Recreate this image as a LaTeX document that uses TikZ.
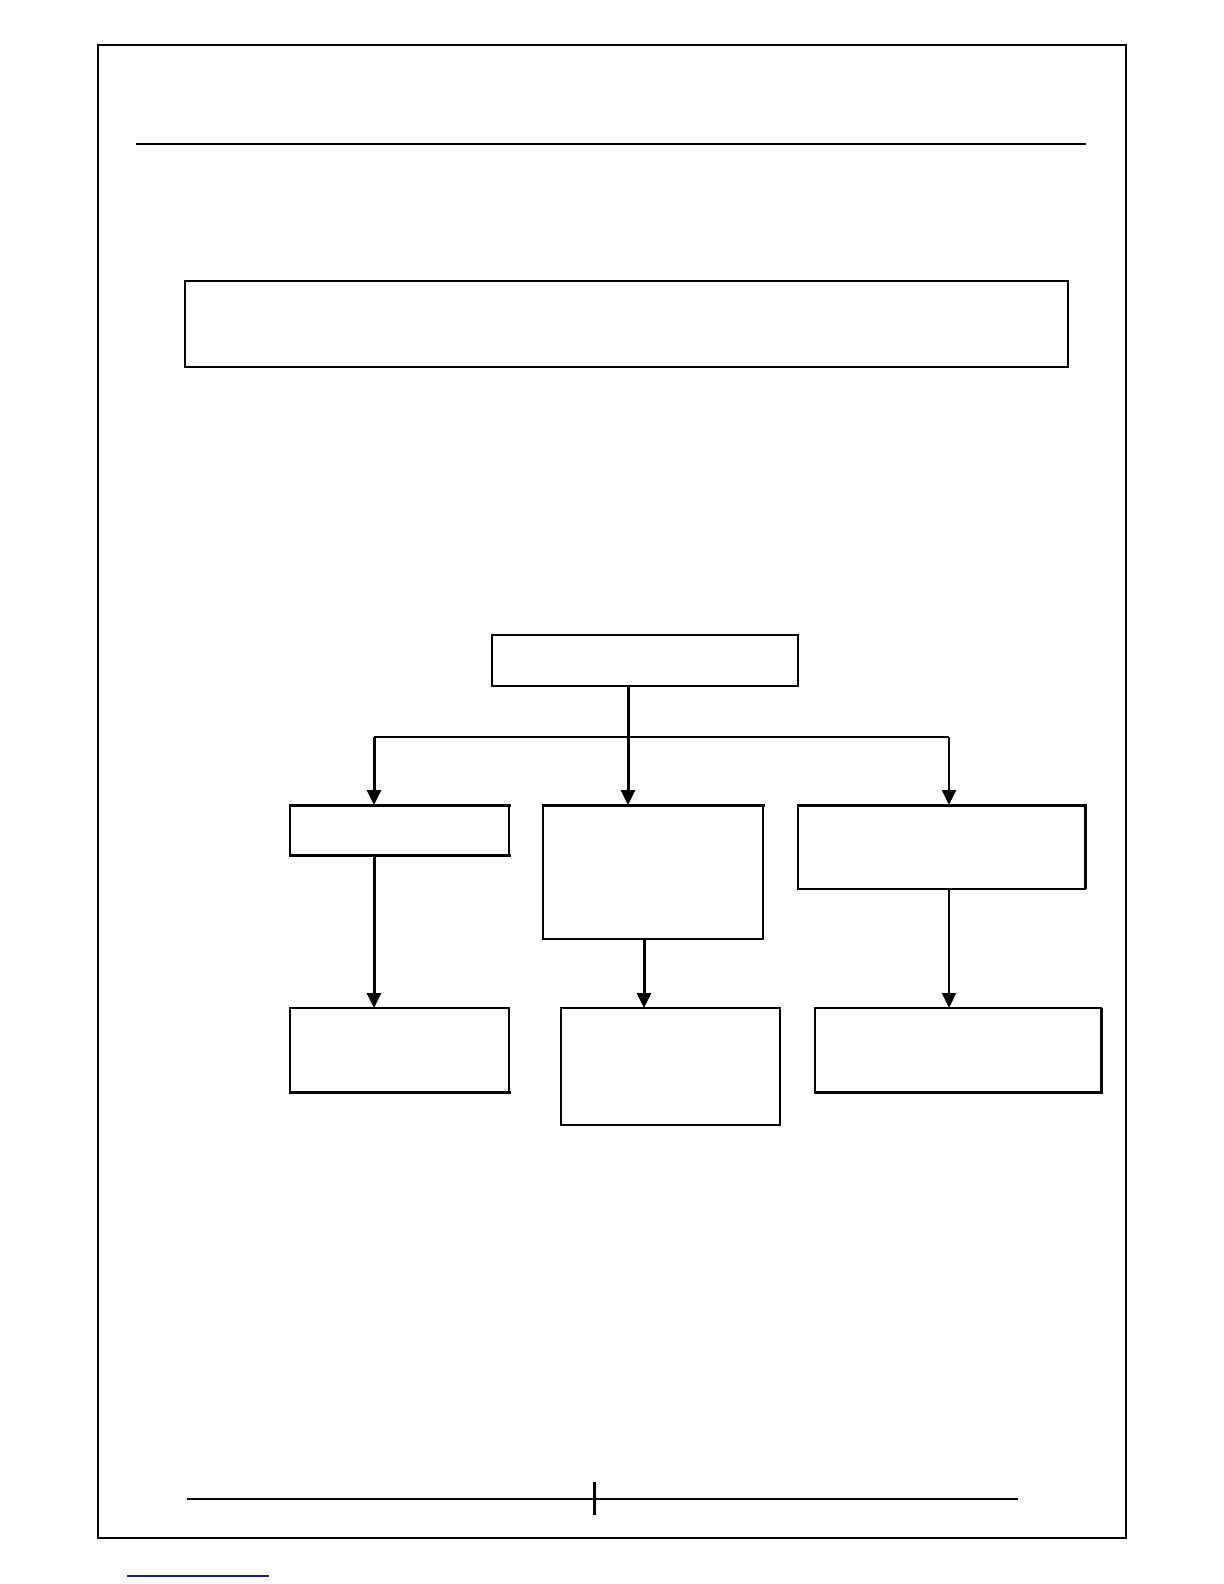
\documentclass[tikz,border=0pt]{standalone}
\usetikzlibrary{arrows.meta,positioning}
\definecolor{linkblue}{RGB}{30,30,140}
\begin{document}
\begin{tikzpicture}[x=0.5pt,y=-0.5pt,
  box/.style={draw=black,line width=1pt,rectangle,inner sep=0pt,outer sep=0pt,anchor=north west},
  thickedge/.style={line width=1.5pt,line cap=rect},
  conn/.style={draw=black,line width=1pt},
  connthick/.style={draw=black,line width=1.5pt},
  arr/.style={-{Triangle[length=7.5pt,width=7pt]}}
]
\useasboundingbox (0,0) rectangle (1224,1584);
% page frame and rules
\draw[line width=1pt] (98,45) rectangle (1126,1538);
\draw[line width=1pt] (136,144) -- (1086,144);
\draw[line width=1pt] (187,1499) -- (1018,1499);
\draw[line width=1.5pt] (594,1482) -- (594,1515);
\draw[linkblue,line width=1pt] (127,1576) -- (269,1576);
% top wide box
\node[box,minimum width=441.5pt,minimum height=43pt] (head) at (185,281) {};
% tree
\node[box,minimum width=153pt,minimum height=25.5pt] (top) at (492,635) {};
\node[box,minimum width=109.5pt,minimum height=25pt] (A) at (290,805) {};
\node[box,minimum width=110pt,minimum height=67pt] (B) at (543,805) {};
\node[box,minimum width=143.5pt,minimum height=42pt] (C) at (798,805) {};
\node[box,minimum width=109.5pt,minimum height=42pt] (D) at (290,1008) {};
\node[box,minimum width=109.5pt,minimum height=58.5pt] (E) at (561,1008) {};
\node[box,minimum width=143pt,minimum height=42pt] (F) at (815,1008) {};
% thicker edges
\draw[thickedge] (A.north west) -- (A.north east);
\draw[thickedge] (A.south west) -- (A.south east);
\draw[thickedge] (B.north west) -- (B.north east);
\draw[thickedge] (C.north west) -- (C.north east);
\draw[line width=1.5pt] (C.north east) -- (C.south east);
\draw[thickedge] (D.south west) -- (D.south east);
\draw[thickedge] (F.south west) -- (F.south east);
\draw[line width=1.5pt] (F.north east) -- (F.south east);
% connector coordinates
\coordinate (tx) at (628,737);
\coordinate (lx) at (374,737);
\coordinate (rx) at (949,737);
\coordinate (ex) at (644,0);
% trunk
\draw[connthick,arr] (top.south -| tx) -- (B.north -| tx);
% bus
\draw[conn] (lx) -- (rx);
\draw[connthick,arr] (lx) -- (A.north -| lx);
\draw[conn,arr] (rx) -- (C.north -| rx);
% lower arrows
\draw[connthick,arr] (A.south -| lx) -- (D.north -| lx);
\draw[connthick,arr] (B.south -| ex) -- (E.north -| ex);
\draw[conn,arr] (C.south -| rx) -- (F.north -| rx);
\end{tikzpicture}
\end{document}
